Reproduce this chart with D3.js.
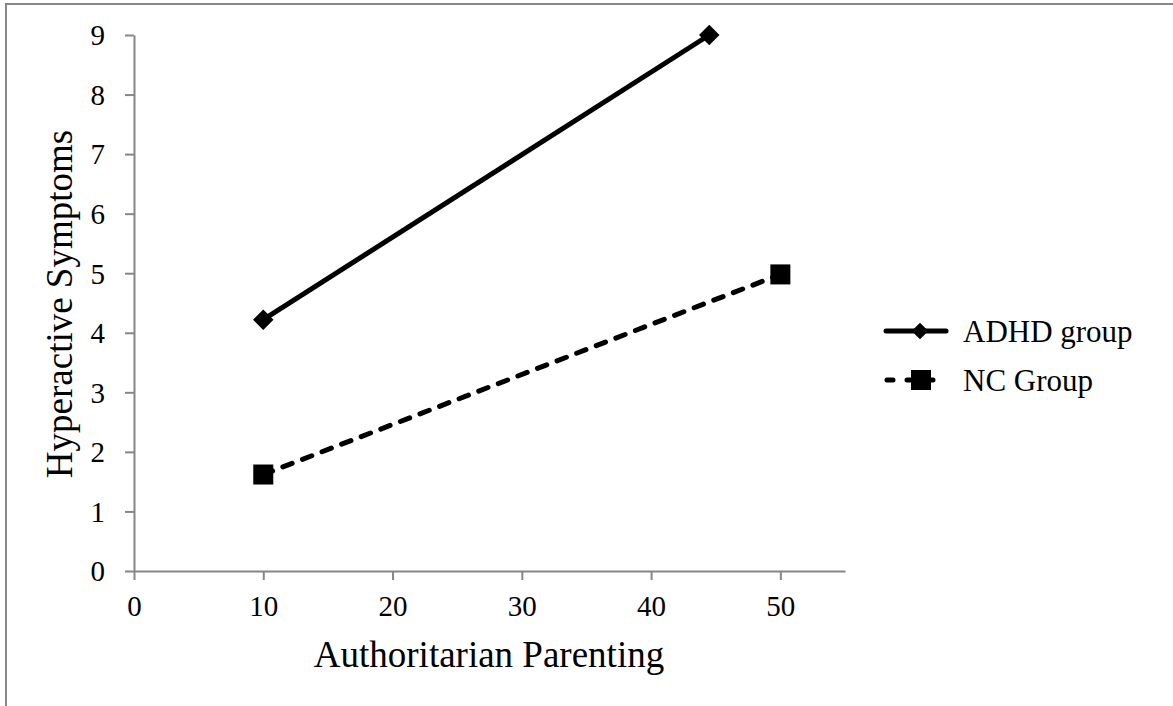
<!DOCTYPE html>
<html>
<head>
<meta charset="utf-8">
<script src="https://cdn.jsdelivr.net/npm/d3@7"></script>
<style>
  html, body { margin: 0; padding: 0; background: #fff; }
  svg { display: block; }
  text { font-family: "Liberation Serif", "Times New Roman", serif; fill: #000; }
</style>
</head>
<body>
<script>
// ---- data ----
const seriesNames = ["ADHD group", "NC Group"];
const adhdX = [10, 44.5];
const adhdY = [4.22, 9.0];
const ncX = [10, 50];
const ncY = [1.62, 4.98];
const xTicks = [0, 10, 20, 30, 40, 50];
const yTicks = [0, 1, 2, 3, 4, 5, 6, 7, 8, 9];
const xTitle = "Authoritarian Parenting";
const yTitle = "Hyperactive Symptoms";

const W = 1173, H = 706;
const svg = d3.select("body").append("svg").attr("width", W).attr("height", H);

// outer frame (cut off at right/bottom as in reference)
svg.append("rect").attr("x", 6).attr("y", 4).attr("width", 1300).attr("height", 900)
  .attr("fill", "none").attr("stroke", "#868686").attr("stroke-width", 2);

const x = d3.scaleLinear().domain([0, 55]).range([134, 845]);
const y = d3.scaleLinear().domain([0, 9]).range([571, 35]);

const axisColor = "#868686";

// x axis
const gx = svg.append("g").attr("transform", `translate(0,${y(0)})`)
  .call(d3.axisBottom(x).tickValues(xTicks).tickSize(9).tickSizeOuter(0).tickPadding(15));
// y axis
const gy = svg.append("g").attr("transform", `translate(${x(0)},0)`)
  .call(d3.axisLeft(y).tickValues(yTicks).tickSize(9).tickSizeOuter(0).tickPadding(20));

[gx, gy].forEach(g => {
  g.select(".domain").attr("stroke", axisColor).attr("stroke-width", 2);
  g.selectAll(".tick line").attr("stroke", axisColor).attr("stroke-width", 2);
  g.selectAll(".tick text").attr("font-family", "Liberation Serif").attr("font-size", 29).attr("fill", "#000");
});
gx.selectAll(".tick text").attr("dy", "0.72em");
gy.selectAll(".tick text").attr("dy", "0.34em");

// axis titles
svg.append("text").attr("x", 489).attr("y", 667).attr("text-anchor", "middle")
  .attr("font-size", 37).text(xTitle);
svg.append("text").attr("transform", `translate(72,304) rotate(-90)`).attr("text-anchor", "middle")
  .attr("font-size", 37).text(yTitle);

const line = d3.line().x(d => x(d[0])).y(d => y(d[1]));
const adhd = adhdX.map((v, i) => [v, adhdY[i]]);
const nc = ncX.map((v, i) => [v, ncY[i]]);

// lines
svg.append("path").datum(adhd).attr("d", line).attr("fill", "none")
  .attr("stroke", "#000").attr("stroke-width", 5);
svg.append("path").datum(nc).attr("d", line).attr("fill", "none")
  .attr("stroke", "#000").attr("stroke-width", 5)
  .attr("stroke-dasharray", "10,11").attr("stroke-linecap", "round");

// markers
const diamond = d3.symbol().type(d3.symbolSquare).size(210);
svg.selectAll(".dm").data(adhd).enter().append("path")
  .attr("d", diamond)
  .attr("transform", d => `translate(${x(d[0])},${y(d[1])}) rotate(45)`)
  .attr("fill", "#000");
svg.selectAll(".sq").data(nc).enter().append("rect")
  .attr("x", d => x(d[0]) - 10).attr("y", d => y(d[1]) - 10)
  .attr("width", 20).attr("height", 20).attr("fill", "#000");

// legend
const lg = svg.append("g");
const rows = [331, 380];
// ADHD
lg.append("line").attr("x1", 886).attr("x2", 946).attr("y1", rows[0]).attr("y2", rows[0])
  .attr("stroke", "#000").attr("stroke-width", 5).attr("stroke-linecap", "round");
lg.append("path").attr("d", d3.symbol().type(d3.symbolSquare).size(140))
  .attr("transform", `translate(920,${rows[0]}) rotate(45)`).attr("fill", "#000");
lg.append("text").attr("x", 963).attr("y", rows[0]).attr("dy", "0.35em").attr("font-size", 31).text(seriesNames[0]);
// NC
lg.append("line").attr("x1", 887).attr("x2", 946).attr("y1", rows[1]).attr("y2", rows[1])
  .attr("stroke", "#000").attr("stroke-width", 5).attr("stroke-linecap", "round")
  .attr("stroke-dasharray", "6,14");
lg.append("rect").attr("x", 911).attr("y", rows[1] - 10).attr("width", 20).attr("height", 20).attr("fill", "#000");
lg.append("text").attr("x", 963).attr("y", rows[1]).attr("dy", "0.35em").attr("font-size", 31).text(seriesNames[1]);
</script>
</body>
</html>
